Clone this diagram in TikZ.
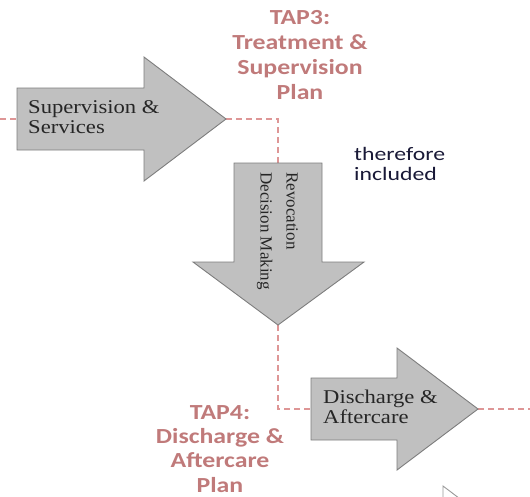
\documentclass[tikz,border=0pt]{standalone}
\usepackage{fontspec}
\setmainfont{Liberation Serif}[FakeStretch=1.16]
\newfontfamily\revfont{Liberation Serif}
\newfontfamily\tapfont{Carlito}[FakeStretch=1.2]
\newfontfamily\notefont{Carlito}[FakeStretch=1.25]
\definecolor{tapred}{RGB}{192,122,122}
\definecolor{linkred}{RGB}{222,150,150}
\definecolor{blkgray}{RGB}{192,192,192}
\definecolor{blkedge}{RGB}{125,125,125}
\definecolor{notenavy}{RGB}{25,25,55}
\tikzstyle{blk} = [draw=blkedge, fill=blkgray, line width=0.9pt]
\tikzstyle{link} = [draw=linkred, line width=1.1pt, dash pattern=on 6pt off 4pt]
\tikzstyle{tap} = [text=tapred, align=center, inner sep=0pt, anchor=north,
    font=\tapfont\bfseries\fontsize{21.5}{25}\selectfont]
\tikzstyle{lbl} = [text=black!85, align=left, inner sep=0pt, anchor=north west,
    font=\fontsize{19.5}{20}\selectfont]
\tikzstyle{note} = [text=notenavy, align=left, inner sep=0pt, anchor=north west,
    font=\notefont\fontsize{19}{20}\selectfont]

\begin{document}
\begin{tikzpicture}[x=1pt,y=-1pt]
  \useasboundingbox (0,0) rectangle (530,496);
  \clip (0,0) rectangle (530,496);

  \coordinate (west-end) at (0,119);
  \coordinate (sup-in)   at (17,119);
  \coordinate (sup-tip)  at (226,119);
  \coordinate (rev-in)   at (278,163);
  \coordinate (rev-tip)  at (278,325);
  \coordinate (dis-in)   at (311,409);
  \coordinate (dis-tip)  at (478,409);
  \coordinate (east-end) at (530,409);

  \draw[link] (west-end) -- (sup-in);
  \draw[link] (sup-tip) -| (rev-in);
  \draw[link] (rev-tip) |- (dis-in);
  \draw[link] (dis-tip) -- (east-end);

  \draw[blk] (17,88) -- (144,88) -- (144,57) -- (sup-tip) -- (144,181)
    -- (144,150) -- (17,150) -- cycle;
  \draw[blk] (234,163) -- (322,163) -- (322,262) -- (364,262) -- (rev-tip)
    -- (193,262) -- (234,262) -- cycle;
  \draw[blk] (311,378) -- (397,378) -- (397,348) -- (dis-tip) -- (397,470)
    -- (397,440) -- (311,440) -- cycle;
  \draw[blk, draw=black!40, fill=white] (443,486) -- (525,548) -- (443,610)
    -- (443,580) -- (360,580) -- (360,516) -- (443,516) -- cycle;

  \node[tap] (tap3) at (300,10) {TAP3:\\Treatment \&\\Supervision\\Plan};
  \node[tap, font=\tapfont\bfseries\fontsize{21.5}{24.3}\selectfont]
    (tap4) at (220,405) {TAP4:\\Discharge \&\\Aftercare\\Plan};
  \node[lbl] (sup) at (28,100) {Supervision \&\\Services};
  \node[lbl] (dis) at (323,390) {Discharge \&\\Aftercare};
  \node[lbl, rotate=-90, font=\revfont\fontsize{17}{26}\selectfont]
    (rev) at (298,172) {Revocation\\Decision Making};
  \node[note] (note) at (354,147) {therefore\\included};
\end{tikzpicture}
\end{document}
